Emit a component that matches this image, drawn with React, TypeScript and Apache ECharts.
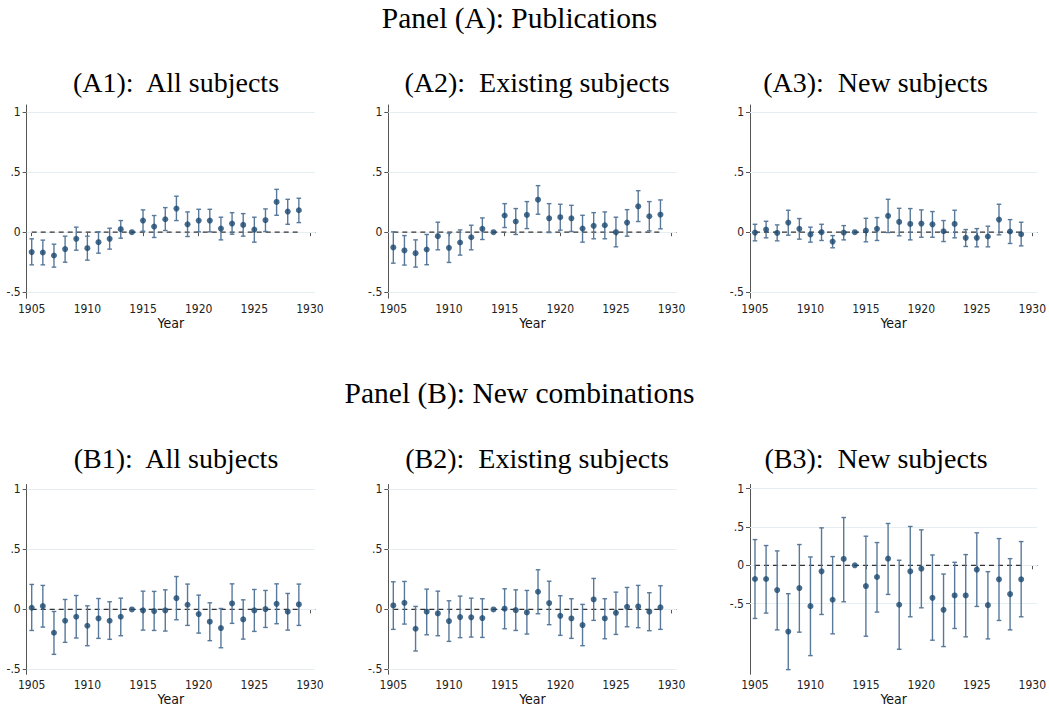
import React, { useEffect, useRef } from "react";
import * as echarts from "echarts";

const years = [1905, 1906, 1907, 1908, 1909, 1910, 1911, 1912, 1913, 1914, 1915, 1916, 1917, 1918, 1919, 1920, 1921, 1922, 1923, 1924, 1925, 1926, 1927, 1928, 1929];
const xTicks = [1905, 1910, 1915, 1920, 1925, 1930];
const yTicks = [-0.5, 0, 0.5, 1];
const yTickLabels = ["-.5", "0", ".5", "1"];

// Panel A1: Publications, all subjects
const a1Est = [-0.166, -0.169, -0.194, -0.141, -0.055, -0.133, -0.083, -0.055, 0.025, 0, 0.097, 0.047, 0.108, 0.197, 0.066, 0.097, 0.097, 0.03, 0.072, 0.061, 0.022, 0.1, 0.252, 0.172, 0.183];
const a1Hi = [-0.055, -0.066, -0.1, -0.033, 0.042, -0.033, 0.003, 0.033, 0.097, null, 0.186, 0.139, 0.205, 0.3, 0.169, 0.191, 0.191, 0.125, 0.163, 0.155, 0.125, 0.194, 0.357, 0.274, 0.283];
const a1Lo = [-0.272, -0.272, -0.291, -0.25, -0.15, -0.233, -0.175, -0.141, -0.05, null, 0.008, -0.044, 0.014, 0.097, -0.036, 0.003, 0.003, -0.064, -0.017, -0.033, -0.083, 0.006, 0.141, 0.066, 0.08];

// Panel A2: Publications, existing subjects
const a2Est = [-0.127, -0.152, -0.175, -0.144, -0.033, -0.13, -0.086, -0.042, 0.028, 0, 0.139, 0.089, 0.144, 0.271, 0.116, 0.125, 0.116, 0.03, 0.053, 0.058, 0, 0.08, 0.216, 0.133, 0.147];
const a2Hi = [0.003, -0.028, -0.064, -0.019, 0.083, -0.008, 0.019, 0.058, 0.119, null, 0.238, 0.197, 0.255, 0.388, 0.238, 0.233, 0.224, 0.141, 0.163, 0.169, 0.125, 0.188, 0.346, 0.255, 0.269];
const a2Lo = [-0.258, -0.274, -0.291, -0.271, -0.147, -0.252, -0.191, -0.147, -0.061, null, 0.039, -0.019, 0.03, 0.15, -0.003, 0.017, 0.006, -0.083, -0.055, -0.055, -0.122, -0.033, 0.089, 0.011, 0.028];

// Panel A3: Publications, new subjects
const a3Est = [-0.003, 0.022, -0.006, 0.08, 0.028, -0.019, 0, -0.078, -0.003, 0, 0.014, 0.028, 0.136, 0.086, 0.069, 0.072, 0.066, 0.008, 0.069, -0.047, -0.047, -0.036, 0.105, 0.006, -0.017];
const a3Hi = [0.066, 0.091, 0.061, 0.183, 0.114, 0.042, 0.066, -0.028, 0.055, null, 0.116, 0.122, 0.274, 0.199, 0.197, 0.186, 0.172, 0.097, 0.183, 0.022, 0.03, 0.05, 0.233, 0.105, 0.083];
const a3Lo = [-0.072, -0.047, -0.072, -0.025, -0.058, -0.083, -0.069, -0.13, -0.064, null, -0.08, -0.069, -0.003, -0.03, -0.064, -0.042, -0.042, -0.078, -0.047, -0.119, -0.122, -0.122, -0.022, -0.094, -0.114];

// Panel B1: New combinations, all subjects
const b1Est = [0.014, 0.028, -0.194, -0.094, -0.061, -0.136, -0.075, -0.094, -0.061, 0, -0.008, -0.014, -0.008, 0.094, 0.039, -0.039, -0.102, -0.155, 0.05, -0.083, -0.008, 0.003, 0.047, -0.019, 0.042];
const b1Hi = [0.208, 0.2, -0.017, 0.083, 0.116, 0.03, 0.091, 0.064, 0.094, null, 0.152, 0.15, 0.163, 0.274, 0.211, 0.119, 0.055, 0.008, 0.213, 0.08, 0.166, 0.158, 0.213, 0.133, 0.211];
const b1Lo = [-0.175, -0.147, -0.374, -0.274, -0.238, -0.302, -0.241, -0.249, -0.219, null, -0.172, -0.175, -0.18, -0.086, -0.133, -0.197, -0.26, -0.319, -0.116, -0.247, -0.183, -0.15, -0.119, -0.172, -0.133];

// Panel B2: New combinations, existing subjects
const b2Est = [0.033, 0.055, -0.161, -0.019, -0.033, -0.097, -0.064, -0.066, -0.072, 0, 0.006, -0.006, -0.025, 0.147, 0.053, -0.053, -0.075, -0.13, 0.083, -0.075, -0.028, 0.022, 0.025, -0.019, 0.017];
const b2Hi = [0.23, 0.233, 0.025, 0.169, 0.152, 0.072, 0.111, 0.094, 0.089, null, 0.172, 0.163, 0.158, 0.33, 0.235, 0.114, 0.089, 0.042, 0.258, 0.089, 0.144, 0.183, 0.2, 0.139, 0.197];
const b2Lo = [-0.166, -0.122, -0.346, -0.211, -0.219, -0.266, -0.235, -0.23, -0.233, null, -0.161, -0.175, -0.205, -0.036, -0.127, -0.216, -0.241, -0.302, -0.091, -0.244, -0.208, -0.144, -0.152, -0.177, -0.166];

// Panel B3: New combinations, new subjects
const b3Est = [-0.179, -0.179, -0.323, -0.865, -0.297, -0.533, -0.079, -0.45, 0.083, 0, -0.271, -0.153, 0.087, -0.515, -0.079, -0.044, -0.424, -0.581, -0.393, -0.393, -0.057, -0.52, -0.183, -0.376, -0.183];
const b3Hi = [0.336, 0.258, 0.188, -0.371, 0.271, 0.109, 0.489, 0.114, 0.624, null, 0.38, 0.297, 0.546, 0.066, 0.507, 0.463, 0.135, -0.114, 0.039, 0.14, 0.424, -0.083, 0.349, 0.087, 0.31];
const b3Lo = [-0.694, -0.624, -0.843, -1.362, -0.873, -1.179, -0.642, -0.895, -0.476, null, -0.926, -0.611, -0.38, -1.096, -0.672, -0.555, -0.978, -1.061, -0.825, -0.934, -0.537, -0.961, -0.72, -0.843, -0.672];

const panelTitles = ["Panel (A): Publications", "Panel (B): New combinations"];
const subTitles = ["(A1):  All subjects", "(A2):  Existing subjects", "(A3):  New subjects", "(B1):  All subjects", "(B2):  Existing subjects", "(B3):  New subjects"];

const panels = [
  { est: a1Est, lo: a1Lo, hi: a1Hi, grid: { left: 26.7, top: 105, width: 288.3, height: 193.2 }, yMin: -0.55, yMax: 1.06, titleX: 176, titleY: 82 },
  { est: a2Est, lo: a2Lo, hi: a2Hi, grid: { left: 388.3, top: 105, width: 288.3, height: 193.2 }, yMin: -0.55, yMax: 1.06, titleX: 537, titleY: 82 },
  { est: a3Est, lo: a3Lo, hi: a3Hi, grid: { left: 750, top: 105, width: 288.3, height: 193.2 }, yMin: -0.55, yMax: 1.06, titleX: 875.5, titleY: 82 },
  { est: b1Est, lo: b1Lo, hi: b1Hi, grid: { left: 26.7, top: 484.5, width: 288.3, height: 189.8 }, yMin: -0.54, yMax: 1.04, titleX: 176, titleY: 458 },
  { est: b2Est, lo: b2Lo, hi: b2Hi, grid: { left: 388.3, top: 484.5, width: 288.3, height: 189.8 }, yMin: -0.54, yMax: 1.04, titleX: 537, titleY: 458 },
  { est: b3Est, lo: b3Lo, hi: b3Hi, grid: { left: 750, top: 484.5, width: 288.3, height: 189.8 }, yMin: -1.423, yMax: 1.055, titleX: 876, titleY: 458 },
];

const NAVY = "#1a476f";
const CI_COLOR = "#58799a";
const AXIS_COLOR = "#555555";
const GRID_COLOR = "#e6eef1";
const SERIF = "'Liberation Serif', 'DejaVu Serif', serif";
const SANS = "'Liberation Sans Narrow', 'DejaVu Sans Condensed', 'Liberation Sans', Arial, sans-serif";

function buildOption() {
  const grid: any[] = [];
  const xAxis: any[] = [];
  const yAxis: any[] = [];
  const series: any[] = [];
  const graphic: any[] = [];

  panels.forEach((p, i) => {
    grid.push({ ...p.grid, containLabel: false });
    xAxis.push({
      type: "value",
      gridIndex: i,
      min: 1904.55,
      max: 1930.45,
      name: "Year",
      nameLocation: "middle",
      nameGap: 16,
      nameTextStyle: { fontFamily: SANS, fontSize: 14, color: "#111" },
      axisLine: { show: true, lineStyle: { color: AXIS_COLOR, width: 1 } },
      axisTick: { show: true, length: 4, customValues: xTicks, lineStyle: { color: AXIS_COLOR } },
      axisLabel: {
        customValues: xTicks,
        margin: 5,
        fontFamily: SANS,
        fontSize: 12,
        color: "#222",
        showMinLabel: true,
        showMaxLabel: true,
        formatter: (v: number) => String(Math.round(v)),
      },
      splitLine: { show: false },
    });
    yAxis.push({
      type: "value",
      gridIndex: i,
      min: p.yMin,
      max: p.yMax,
      axisLine: { show: true, lineStyle: { color: AXIS_COLOR, width: 1 } },
      axisTick: { show: true, length: 4, customValues: yTicks, lineStyle: { color: AXIS_COLOR } },
      axisLabel: {
        customValues: yTicks,
        margin: 6,
        fontFamily: SANS,
        fontSize: 12,
        color: "#222",
        formatter: (v: number) => {
          const idx = yTicks.findIndex((t) => Math.abs(t - v) < 1e-6);
          return idx >= 0 ? yTickLabels[idx] : "";
        },
      },
      splitLine: { show: false },
    });

    // grid lines + zero dashed line
    series.push({
      type: "line",
      xAxisIndex: i,
      yAxisIndex: i,
      data: [[1905, 0], [1929, 0]],
      symbol: "none",
      silent: true,
      z: 3,
      lineStyle: { color: "#333", width: 1.2, type: [5, 4] },
      markLine: {
        silent: true,
        symbol: "none",
        label: { show: false },
        z: 1,
        lineStyle: { color: GRID_COLOR, width: 1, type: "solid" },
        data: yTicks.map((t) => ({ yAxis: t })),
      },
    });

    // error bars
    const ciData: any[] = [];
    years.forEach((y, k) => {
      if (p.lo[k] !== null && p.hi[k] !== null) ciData.push([y, p.lo[k], p.hi[k]]);
    });
    series.push({
      type: "custom",
      xAxisIndex: i,
      yAxisIndex: i,
      data: ciData,
      z: 4,
      silent: true,
      renderItem: (params: any, api: any) => {
        const x = api.value(0);
        const lo = api.coord([x, api.value(1)]);
        const hi = api.coord([x, api.value(2)]);
        const w = 2.3;
        const st = { stroke: CI_COLOR, lineWidth: 1.4 };
        return {
          type: "group",
          children: [
            { type: "line", shape: { x1: hi[0], y1: hi[1], x2: lo[0], y2: lo[1] }, style: st },
            { type: "line", shape: { x1: hi[0] - w, y1: hi[1], x2: hi[0] + w, y2: hi[1] }, style: st },
            { type: "line", shape: { x1: lo[0] - w, y1: lo[1], x2: lo[0] + w, y2: lo[1] }, style: st },
          ],
        };
      },
    });

    // point estimates
    series.push({
      type: "scatter",
      xAxisIndex: i,
      yAxisIndex: i,
      data: years.map((y, k) => [y, p.est[k]]),
      symbol: "circle",
      symbolSize: 6,
      z: 5,
      itemStyle: { color: NAVY },
    });

    graphic.push({
      type: "text",
      x: p.titleX,
      y: p.titleY,
      style: { text: subTitles[i], font: `28px ${SERIF}`, fill: "#000", textAlign: "center", textVerticalAlign: "middle" },
    });
  });

  graphic.push({
    type: "text",
    x: 519.5,
    y: 18,
    style: { text: panelTitles[0], font: `29.5px ${SERIF}`, fill: "#000", textAlign: "center", textVerticalAlign: "middle" },
  });
  graphic.push({
    type: "text",
    x: 519.5,
    y: 393,
    style: { text: panelTitles[1], font: `29.5px ${SERIF}`, fill: "#000", textAlign: "center", textVerticalAlign: "middle" },
  });

  return { animation: false, backgroundColor: "#ffffff", grid, xAxis, yAxis, series, graphic };
}

export default function App() {
  const ref = useRef<HTMLDivElement>(null);
  useEffect(() => {
    if (!ref.current) return;
    const chart = echarts.init(ref.current, undefined, { renderer: "svg" });
    chart.setOption(buildOption() as any);
    return () => chart.dispose();
  }, []);
  return <div ref={ref} style={{ position: "fixed", left: 0, top: 0, width: 1049, height: 708, background: "#fff" }} />;
}
